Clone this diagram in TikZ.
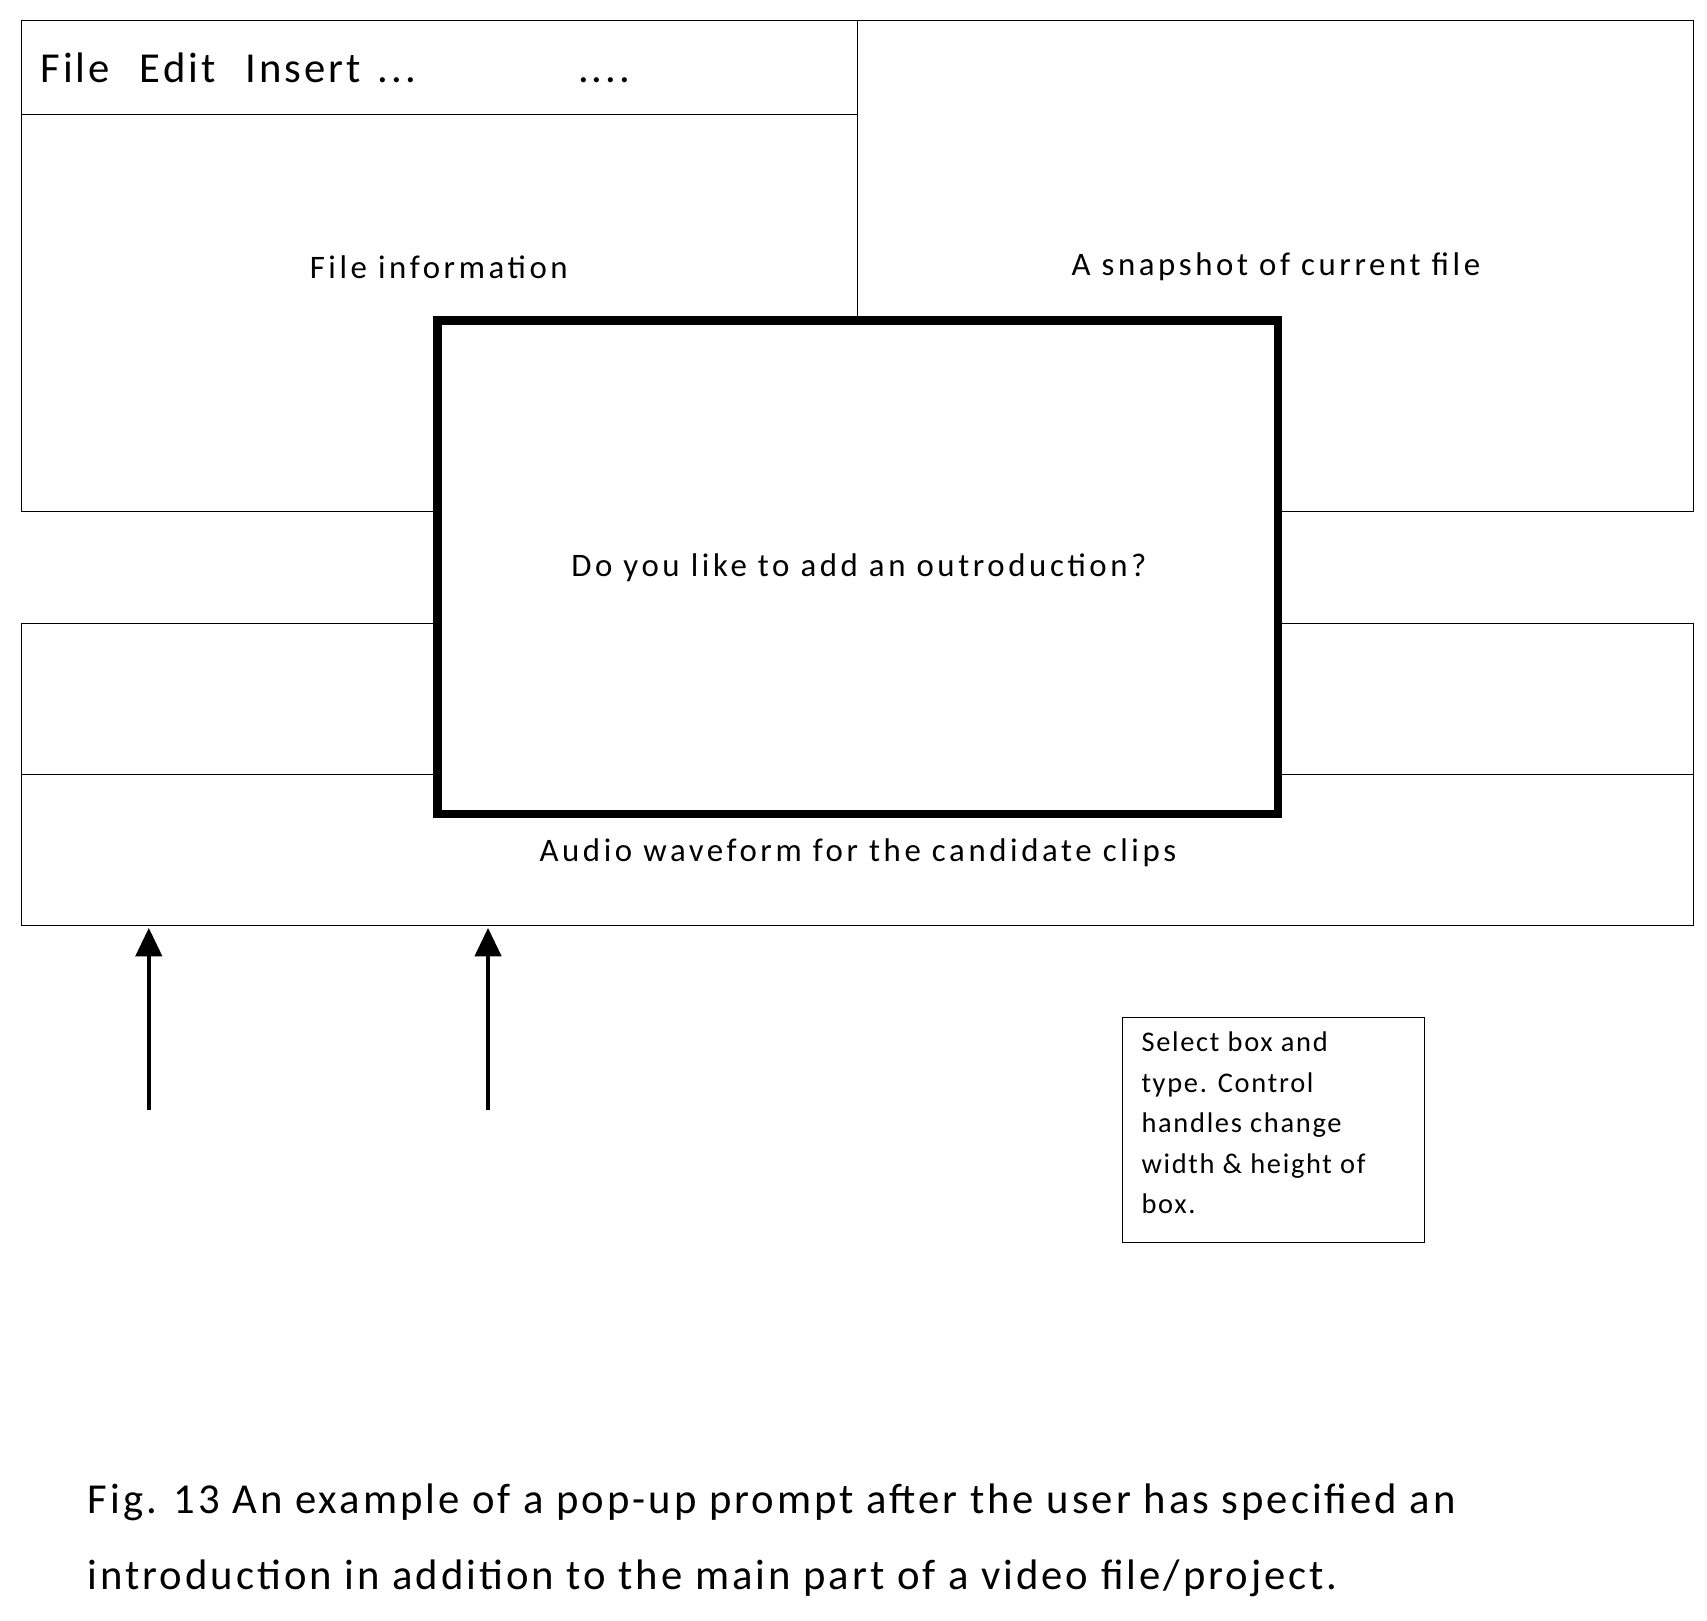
\documentclass[tikz,border=0pt]{standalone}
\usepackage{fontspec}
\usetikzlibrary{arrows.meta}
\setmainfont{Carlito}
\begin{document}
\begin{tikzpicture}[x=1pt,y=1pt,yscale=-1,
  panel/.style={draw,line width=0.8pt},
  label/.style={font=\fontsize{30}{36}\selectfont\addfontfeature{LetterSpace=11},inner sep=0pt},
  pointer/.style={-{Triangle[length=26pt,width=24pt]},line width=3.5pt}]
\useasboundingbox (0,0) rectangle (1560,1481);
% panels
\draw[panel] (20,19) rectangle (784,467);
\draw[panel] (20,105) -- (784,105);
\draw[panel] (784,19) rectangle (1548,467);
\draw[panel] (20,570) rectangle (1548,846);
\draw[panel] (20,708) -- (1548,708);
\node[anchor=west,inner sep=0pt,font=\fontsize{39}{44}\selectfont\addfontfeature{LetterSpace=7}] (menu) at (37,62) {File\hspace{0.7em}Edit\hspace{0.7em}Insert\hspace{0.4em}...\hspace{3.8em}....};
\node[label] (info) at (401,244) {File information};
\node[label] (snap) at (1166,244) {A snapshot of current file};
% popup
\draw[line width=8pt,fill=white] (400,293) rectangle (1168,744);
\node[label] (prompt) at (785,519) {Do you like to add an outroduction?};
\node[label] (audio) at (784,779) {Audio waveform for the candidate clips};
% arrows
\coordinate (a1) at (136,1014);
\coordinate (t1) at (136,848);
\coordinate (a2) at (446,1014);
\coordinate (t2) at (446,848);
\draw[pointer] (a1) -- (t1);
\draw[pointer] (a2) -- (t2);
% note
\node[draw,line width=0.8pt,anchor=north west,minimum width=276pt,minimum height=206pt,
  inner sep=0pt] (notebox) at (1025,929) {};
\node[anchor=north west,align=left,inner sep=0pt,font=\fontsize{26}{37}\selectfont\addfontfeature{LetterSpace=6}]
  (note) at (1043,943) {Select box and\\type. Control\\handles change\\width \& height of\\box.};
% caption
\node[anchor=north west,align=left,inner sep=0pt,font=\fontsize{39}{69}\selectfont\addfontfeature{LetterSpace=7}]
  (caption) at (80,1356) {Fig. 13 An example of a pop-up prompt after the user has specified an\\introduction in addition to the main part of a video file/project.};
\end{tikzpicture}
\end{document}
